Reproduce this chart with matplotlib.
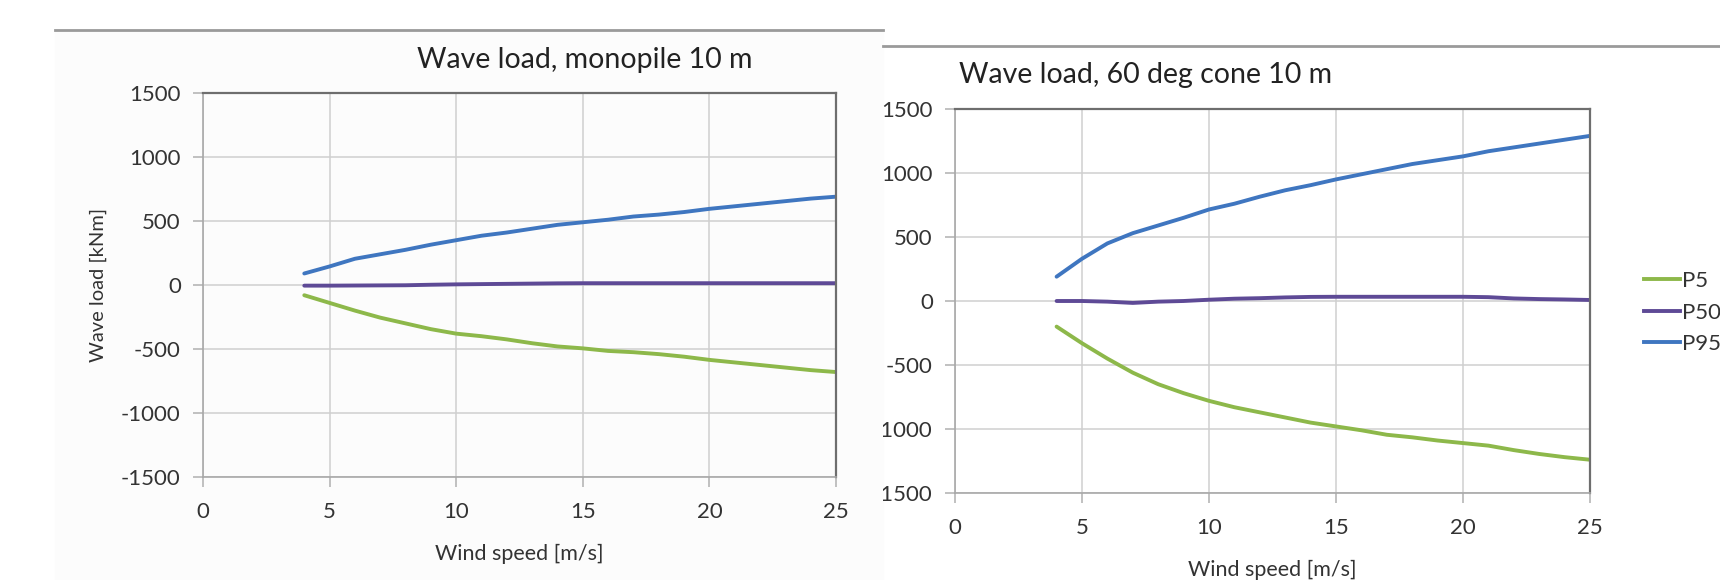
#!/usr/bin/env python3
import matplotlib as mpl

mpl.use("Agg")
import matplotlib.pyplot as plt
from matplotlib.patches import Rectangle
from matplotlib.lines import Line2D
from matplotlib.transforms import Bbox

# wind speed [m/s]
WIND = [4, 5, 6, 7, 8, 9, 10, 11, 12, 13, 14, 15, 16, 17, 18, 19, 20, 21, 22, 23, 24, 25]

# monopile 10 m, wave load [kNm]
MONO_P5 = [-80, -140, -200, -255, -300, -345, -380, -400, -425, -455, -480, -495, -515, -525, -540, -560, -585, -605, -625, -645, -665, -680]
MONO_P50 = [-5, -5, -4, -3, -2, 2, 5, 7, 9, 11, 13, 14, 14, 14, 14, 14, 14, 14, 14, 14, 14, 14]
MONO_P95 = [90, 145, 205, 240, 275, 315, 350, 385, 410, 440, 470, 490, 510, 535, 550, 570, 595, 615, 635, 655, 675, 690]

# 60 deg cone 10 m, wave load [kNm]
CONE_P5 = [-200, -330, -450, -560, -650, -720, -780, -830, -870, -910, -950, -980, -1010, -1045, -1065, -1090, -1110, -1130, -1165, -1195, -1220, -1240]
CONE_P50 = [0, 0, -5, -15, -5, 0, 10, 18, 22, 28, 32, 33, 33, 33, 33, 33, 33, 30, 20, 15, 12, 8]
CONE_P95 = [190, 330, 450, 530, 590, 650, 715, 760, 815, 865, 905, 950, 990, 1030, 1070, 1100, 1130, 1170, 1200, 1230, 1260, 1290]

LABELS = ["P5", "P50", "P95"]
COLORS = ["#8DB84A", "#5E4A96", "#3F76C0"]

W, H = 1720, 580
INK = "#333333"


def fx(px):
    return px / W


def fy(py):
    return 1 - py / H


def style_axes(ax):
    ax.set_xlim(0, 25)
    ax.set_ylim(-1500, 1500)
    ax.set_xticks(range(0, 26, 5))
    ax.set_yticks(range(-1500, 1501, 500))
    ax.set_facecolor("none")
    ax.grid(True, color="#cfcfcf", lw=1.1)
    ax.set_axisbelow(True)
    for side in ["left", "bottom"]:
        ax.spines[side].set_color("#a8a8a8")
        ax.spines[side].set_linewidth(1.2)
    for side in ["top", "right"]:
        ax.spines[side].set_color("#6e6e6e")
        ax.spines[side].set_linewidth(1.6)
    ax.tick_params(length=7, width=1.1, color="#b0b0b0", labelsize=16, labelcolor=INK)
    ax.tick_params(axis="y", pad=9)
    ax.tick_params(axis="x", pad=11)


plt.rcParams["font.family"] = ["Lato", "DejaVu Sans"]
plt.rcParams["axes.unicode_minus"] = False
fig = plt.figure(figsize=(W / 100, H / 100), dpi=100)

# panel backgrounds and separator lines
fig.patches.append(Rectangle((fx(55), 0), fx(883) - fx(55), fy(30), transform=fig.transFigure, color="#fcfcfc", zorder=-10))
fig.add_artist(Line2D([fx(55), fx(883)], [fy(30), fy(30)], color="#9a9a9a", lw=2))
fig.add_artist(Line2D([fx(883), 1.0], [fy(46), fy(46)], color="#9a9a9a", lw=2))

ax1 = fig.add_axes([fx(203), fy(477), fx(836) - fx(203), fy(93) - fy(477)])
ax2 = fig.add_axes([fx(955), fy(493), fx(1590) - fx(955), fy(109) - fy(493)])

for ax, series in [(ax1, [MONO_P5, MONO_P50, MONO_P95]), (ax2, [CONE_P5, CONE_P50, CONE_P95])]:
    style_axes(ax)
    for vals, c, lab in zip(series, COLORS, LABELS):
        ax.plot(WIND, vals, color=c, lw=2.8, label=lab, solid_capstyle="round")
    ax.set_xlabel("Wind speed [m/s]", fontsize=15.5, color=INK, labelpad=16)

ax1.set_ylabel("Wave load [kNm]", fontsize=14.5, color=INK, labelpad=10)
fig.text(fx(585), fy(60), "Wave load, monopile 10 m", ha="center", va="center", fontsize=20.5, color="#222222")
fig.text(fx(1146), fy(75), "Wave load, 60 deg cone 10 m", ha="center", va="center", fontsize=20.5, color="#222222")

# right panel tick labels are cut off at the panel edge
clip = Bbox.from_extents(883, 0, W, H)
for lab in ax2.get_yticklabels():
    lab.set_clip_box(clip)
    lab.set_clip_on(True)

handles = [Line2D([0], [0], color=c, lw=2.8) for c in COLORS]
fig.legend(handles, LABELS, loc="upper left", bbox_to_anchor=(fx(1633), fy(260)), frameon=False, borderpad=0,
           fontsize=16, handlelength=1.6, handletextpad=0.1, labelspacing=0.52, labelcolor=INK)

fig.savefig("out.png", dpi=100, facecolor="white")
